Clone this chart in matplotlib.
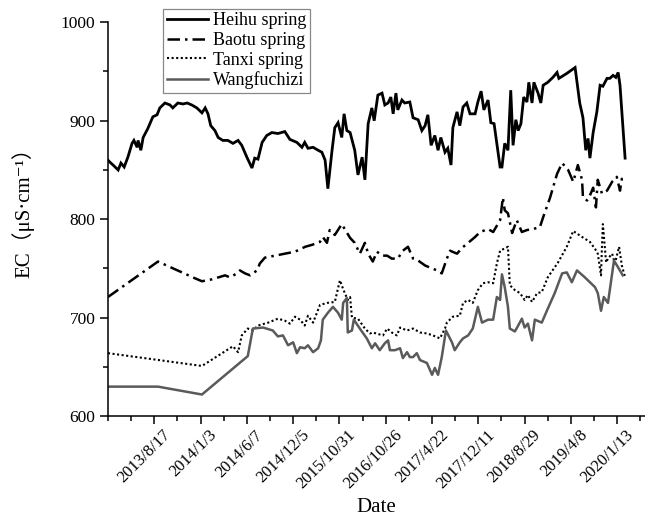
import matplotlib
matplotlib.use("Agg")
import matplotlib.pyplot as plt
from matplotlib.ticker import MultipleLocator
from matplotlib.transforms import ScaledTranslation

# x axis is the sampling sequence (categorical), labelled every 10 observations
date_pos = [10, 20, 30, 40, 50, 60, 70, 80, 90, 100, 110]
date_labels = ["2013/8/17", "2014/1/3", "2014/6/7", "2014/12/5", "2015/10/31",
               "2016/10/26", "2017/4/22", "2017/12/11", "2018/8/29", "2019/4/8",
               "2020/1/13"]

# Heihu spring
heihu_x = [0.0, 0.4, 1.1, 2.2, 2.8, 3.5, 4.3, 5.2, 5.6, 6.3, 6.5, 7.1, 7.6, 8.6, 9.7,
           10.6, 11.2, 12.3, 13.4, 14.0, 15.1, 16.2, 17.1, 18.1, 19.2, 20.3, 21.0, 21.6,
           22.2, 23.1, 23.8, 24.8, 25.9, 27.0, 28.1, 28.9, 30.0, 31.1, 31.7, 32.4, 33.3,
           34.3, 35.4, 36.7, 38.2, 39.3, 40.8, 41.9, 42.5, 43.2, 44.3, 45.4, 46.2, 46.9,
           47.5, 48.4, 49.0, 49.7, 50.5, 51.0, 51.6, 52.3, 53.3, 54.0, 54.9, 55.5, 56.2,
           57.0, 57.5, 58.3, 59.2, 59.8, 60.5, 61.1, 61.6, 62.2, 62.6, 63.5, 64.1, 65.2,
           65.9, 67.0, 67.8, 68.5, 69.1, 69.8, 70.6, 71.3, 71.9, 72.8, 73.4, 74.1, 74.5,
           75.4, 76.0, 76.7, 77.5, 78.2, 79.3, 79.9, 80.6, 81.2, 82.1, 82.7, 83.4, 84.2,
           84.7, 85.1, 85.7, 86.4, 87.0, 87.5, 88.1, 88.6, 89.2, 89.8, 90.5, 90.9, 91.6,
           92.0, 92.9, 93.5, 94.0, 95.0, 96.1, 97.0, 97.4, 99.1, 100.9, 101.9, 102.6,
           103.2, 103.7, 104.1, 104.8, 105.6, 106.3, 106.9, 107.8, 108.4, 109.1, 109.7,
           110.2, 110.6, 111.7]
heihu_y = [860, 858, 855, 850, 857, 853, 863, 877, 880, 873, 880, 870, 883, 892, 904,
           906, 913, 918, 916, 913, 918, 917, 918, 916, 913, 908, 913, 907,
           895, 890, 883, 880, 880, 877, 880, 875, 863, 852, 862, 861, 878,
           885, 888, 887, 889, 881, 878, 873, 878, 872, 873, 870, 868, 860,
           831, 870, 893, 898, 883, 907, 890, 888, 870, 845, 863, 840, 897,
           913, 900, 926, 928, 916, 918, 924, 907, 928, 911, 921, 918, 919,
           903, 901, 890, 895, 906, 875, 885, 870, 883, 868, 872, 855, 893,
           909, 895, 914, 918, 907, 907, 919, 930, 911, 921, 898, 897, 870,
           853, 853, 877, 870, 931, 875, 901, 890, 897, 924, 919, 939, 918,
           939, 928, 918, 936, 939, 944, 949, 943, 948, 954, 918, 903,
           870, 882, 862, 888, 909, 936, 935, 943, 943, 946, 944,
           949, 936, 862]

# Baotu spring
baotu_x = [0.0, 10.8, 18.8, 20.3, 22.5, 25.3, 26.3, 27.9, 28.5, 29.6, 30.7, 32.2, 32.8,
           33.9, 36.1, 38.2, 40.4, 42.6, 44.1, 45.8, 46.4, 47.3, 47.9, 49.0, 50.5, 52.3,
           53.3, 54.4, 55.5, 56.2, 57.2, 58.1, 59.2, 60.3, 61.3, 62.6, 63.7, 64.8, 65.9,
           67.0, 68.5, 70.0, 71.1, 72.1, 73.2, 73.9, 75.4, 76.5, 77.8, 79.3, 80.4, 82.1,
           83.2, 84.7, 85.3, 85.7, 86.4, 87.3, 88.3, 89.4, 90.5, 91.8, 93.3, 94.0, 95.5,
           97.0, 98.1, 99.4, 100.5, 101.5, 102.4, 102.6, 103.5, 104.1, 104.8, 105.4,
           105.8, 106.7, 107.8, 108.9, 109.9, 110.6, 111.0, 111.5]
baotu_y = [721, 757, 740, 737, 739, 743, 741, 745, 748, 745, 743, 748, 755,
           761, 763, 765, 767, 772, 774, 777, 782, 776, 789, 784, 795, 781,
           776, 765, 776, 765, 757, 767, 763, 763, 760, 760, 768, 772, 760,
           758, 753, 750, 748, 745, 760, 768, 765, 771, 776, 782, 787, 790,
           787, 799, 822, 809, 806, 786, 799, 787, 789, 790, 792, 802, 822,
           846, 857, 850, 838, 855, 840, 822, 819, 824, 832, 812,
           840, 826, 829, 838, 843, 829, 841, 840]

# Tanxi spring
tanxi_x = [0.0, 20.3, 27.0, 28.1, 28.9, 30.2, 31.3, 32.4, 34.6, 36.7, 38.2, 39.3, 40.4,
           41.5, 42.5, 43.2, 44.3, 45.8, 47.3, 49.0, 50.1, 50.8, 51.8, 52.3, 52.7, 54.0,
           55.5, 56.6, 57.2, 59.4, 60.3, 61.3, 62.4, 63.1, 64.6, 65.9, 67.4, 68.9, 70.2,
           71.7, 72.8, 73.2, 74.5, 76.0, 76.7, 77.8, 78.8, 79.9, 81.0, 82.1, 83.2, 84.0,
           84.7, 86.4, 86.8, 87.9, 89.0, 90.0, 90.7, 91.6, 92.7, 93.7, 95.0, 97.2, 99.1,
           100.5, 102.4, 104.1, 105.2, 105.8, 106.5, 106.7, 106.9, 107.6, 108.0, 108.9,
           109.5, 110.4, 111.0, 111.7]
tanxi_y = [664, 651, 671, 665, 682, 689, 687, 692, 695, 699, 697, 694, 701,
           698, 692, 702, 695, 713, 715, 716, 738, 729, 718, 721, 700, 699,
           689, 684, 685, 682, 689, 685, 682, 690, 687, 689, 685, 684, 682,
           679, 689, 695, 701, 702, 715, 718, 715, 728, 735, 736, 735, 755,
           768, 772, 733, 728, 725, 718, 723, 716, 725, 726, 741, 756, 772,
           788, 782, 777, 770, 765, 743, 772, 795, 756, 760, 765,
           755, 772, 753, 741]

# Wangfuchizi
wfcz_x = [0.0, 10.8, 20.3, 30.2, 31.3, 33.5, 35.6, 36.7, 37.8, 38.9, 40.0, 40.8, 41.5,
          42.5, 43.2, 44.3, 45.4, 46.0, 46.4, 47.5, 48.6, 49.7, 50.5, 50.8, 51.6, 51.8,
          52.7, 53.1, 54.4, 55.9, 57.0, 57.7, 58.7, 59.8, 60.5, 60.9, 62.0, 63.1, 63.7,
          64.6, 65.2, 65.9, 66.7, 67.4, 68.9, 70.0, 70.6, 71.3, 72.1, 73.0, 74.3, 74.9,
          76.0, 76.7, 77.8, 78.8, 79.9, 80.8, 82.1, 83.2, 84.0, 84.7, 85.1, 85.7, 86.4,
          86.8, 87.9, 88.6, 89.4, 90.0, 90.7, 91.6, 92.2, 93.7, 94.8, 96.5, 98.1, 99.1,
          100.2, 101.3, 103.0, 105.2, 105.8, 106.5, 107.1, 108.0, 109.3, 110.2, 111.2]
wfcz_y = [630, 630, 622, 661, 689, 690, 687, 681, 682, 672, 675, 664, 670,
          669, 672, 665, 669, 677, 698, 705, 711, 705, 698, 715, 720, 685,
          687, 698, 689, 679, 669, 674, 667, 674, 677, 667, 667, 669, 659,
          665, 660, 660, 664, 657, 654, 642, 649, 642, 660, 687, 675, 667,
          675, 679, 682, 689, 711, 695, 698, 698, 721, 718, 744, 731, 711,
          689, 686, 692, 699, 690, 694, 677, 698, 695, 707, 725, 745, 746,
          736, 748, 741, 731, 725, 707, 721, 715, 758, 751, 743]

# serif text, CJK font only for the full-width brackets
plt.rcParams['font.family'] = ['Liberation Serif', 'Noto Sans CJK SC', 'DejaVu Sans']

fig = plt.figure(figsize=(6.45, 5.17), dpi=100)
ax = fig.add_axes([0.1674, 0.195, 0.8326, 0.762])

ax.plot(heihu_x, heihu_y, color='black', lw=2.0, solid_joinstyle='miter', label='Heihu spring')
ax.plot(baotu_x, baotu_y, color='black', lw=1.8, linestyle=(0, (5, 2, 1, 2)), label='Baotu spring')
ax.plot(tanxi_x, tanxi_y, color='black', lw=1.5, linestyle=(0, (1, 1.2)), label='Tanxi spring')
ax.plot(wfcz_x, wfcz_y, color='#5a5a5a', lw=1.8, label='Wangfuchizi')

ax.set_xlim(0, 116)
ax.set_ylim(600, 1000)
ax.set_xticks(date_pos)
ax.set_xticklabels(date_labels, rotation=45, ha='right', va='center', rotation_mode='anchor')
ax.xaxis.set_minor_locator(MultipleLocator(5))
ax.yaxis.set_major_locator(MultipleLocator(100))
ax.yaxis.set_minor_locator(MultipleLocator(50))

for sp in ['top', 'right']:
    ax.spines[sp].set_visible(False)
for sp in ['left', 'bottom']:
    ax.spines[sp].set_linewidth(1.1)

ax.tick_params(which='major', direction='out', length=6, width=1.1, labelsize=12.5, pad=3)
ax.tick_params(which='minor', direction='out', length=3.5, width=1.1)
ax.tick_params(axis='x', which='major', labelsize=12, pad=6)

# shift rotated labels a bit to the right like in the original
offset = ScaledTranslation(10 / 72, 0, fig.dpi_scale_trans)
for lbl in ax.get_xticklabels():
    lbl.set_transform(lbl.get_transform() + offset)

ax.set_xlabel('Date', fontsize=15, labelpad=4)
ax.set_ylabel('EC（μS·cm⁻¹）', fontsize=15)
ax.yaxis.set_label_coords(-0.137, 0.53)

leg = ax.legend(loc='upper left', bbox_to_anchor=(0.253, 0.983), bbox_transform=fig.transFigure,
                fontsize=13, labelspacing=0.15, handlelength=2.3, handletextpad=0.25,
                borderpad=0.2, borderaxespad=0, fancybox=False, framealpha=1)
leg.get_frame().set_edgecolor('#888888')
leg.get_frame().set_linewidth(0.9)

fig.savefig('out.png', dpi=100)
